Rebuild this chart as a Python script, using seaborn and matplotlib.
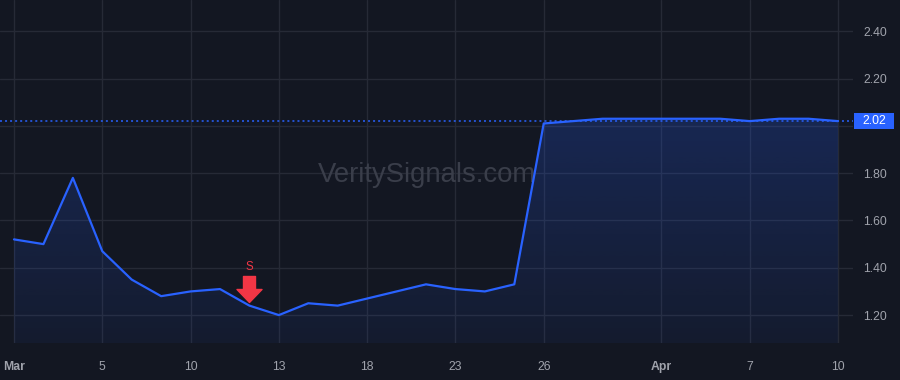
import numpy as np
import pandas as pd
import matplotlib
matplotlib.use("Agg")
import matplotlib.pyplot as plt
import seaborn as sns
from matplotlib.path import Path
from matplotlib.patches import PathPatch, Rectangle
from matplotlib import transforms

# ---- data ----
day_index = list(range(29))
prices = [1.52, 1.50, 1.78, 1.47, 1.35, 1.28, 1.30, 1.31, 1.24, 1.20,
          1.25, 1.24, 1.27, 1.30, 1.33, 1.31, 1.30, 1.33, 2.01, 2.02,
          2.03, 2.03, 2.03, 2.03, 2.03, 2.02, 2.03, 2.03, 2.02]
tick_positions = [0, 3, 6, 9, 12, 15, 18, 22, 25, 28]
tick_labels = ["Mar", "5", "10", "13", "18", "23", "26", "Apr", "7", "10"]
month_labels = ["Mar", "Apr"]
y_ticks = [1.20, 1.40, 1.60, 1.80, 2.00, 2.20, 2.40]
last_price = 2.02
signal_index = 8
signal_label = "S"
watermark = "VeritySignals.com"

# ---- style ----
BG = "#131722"
GRID = "#262a36"
TEXT = "#a0a3ac"
BLUE = "#2962ff"
RED = "#f23645"

sns.set_theme(style="dark", rc={"axes.facecolor": BG, "figure.facecolor": BG})
plt.rcParams["font.family"] = ["Liberation Sans", "DejaVu Sans"]

fig = plt.figure(figsize=(9, 3.8), dpi=100)
ax = fig.add_axes([0, 1 - 343 / 380, 853 / 900, 343 / 380])
ax.set_facecolor(BG)

df = pd.DataFrame({"day": day_index, "price": prices})
ylo, yhi = 1.082, 2.532
xlo, xhi = -0.476, 28.51

sns.lineplot(data=df, x="day", y="price", ax=ax, color=BLUE, linewidth=1.6, zorder=4)

# gradient area fill
poly = ax.fill_between(df["day"], df["price"], ylo, facecolor="none", edgecolor="none")
path = poly.get_paths()[0]
patch = PathPatch(path, transform=ax.transData, facecolor="none", edgecolor="none")
ax.add_patch(patch)
rgb = matplotlib.colors.to_rgb(BLUE)
grad = np.zeros((256, 1, 4))
grad[..., 0], grad[..., 1], grad[..., 2] = rgb
grad[..., 3] = np.linspace(0.06, 0.22, 256)[:, None]
im = ax.imshow(grad, extent=[xlo, xhi, ylo, max(prices)], origin="lower",
               aspect="auto", zorder=2, interpolation="bilinear")
im.set_clip_path(patch)

ax.set_xlim(xlo, xhi)
ax.set_ylim(ylo, yhi)

# grid
ax.set_xticks(tick_positions)
ax.set_xticklabels(tick_labels)
ax.set_yticks(y_ticks)
ax.set_yticklabels(["" if abs(v - 2.0) < 1e-9 else f"{v:.2f}" for v in y_ticks])
ax.grid(True, color=GRID, linewidth=1.0)
ax.set_axisbelow(True)
for s in ax.spines.values():
    s.set_visible(False)
ax.yaxis.tick_right()
ax.tick_params(axis="y", length=0, pad=7.5, labelsize=8.8, labelcolor=TEXT)
ax.tick_params(axis="x", length=0, pad=13, labelsize=8.8, labelcolor=TEXT)
for lab in ax.get_xticklabels():
    if lab.get_text() in month_labels:
        lab.set_fontweight("bold")
ax.set_xlabel("")
ax.set_ylabel("")

# watermark
ax.text(0.5, 1 - 182 / 343, watermark, transform=ax.transAxes, ha="center", va="baseline",
        fontsize=19.8, color="#3a3e4a", zorder=3)

# last price line + label
ax.axhline(last_price, color=BLUE, linestyle=(0, (1.3, 2.0)), linewidth=1.1, zorder=3)
blend = transforms.blended_transform_factory(ax.transAxes, ax.transData)
ax.add_patch(Rectangle((1.001, last_price - 0.035), 40 / 853, 0.07, transform=blend,
                       facecolor=BLUE, edgecolor="none", clip_on=False, zorder=5))
ax.text(1.001 + 20 / 853, last_price, f"{last_price:.2f}", transform=blend,
        ha="center", va="center", color="white", fontsize=8.8, zorder=6, clip_on=False)

# sell signal arrow
verts = [(-6, 13), (6, 13), (6, 0), (12.5, 0), (0, -13), (-12.5, 0), (-6, 0), (-6, 13)]
codes = [Path.MOVETO] + [Path.LINETO] * 6 + [Path.CLOSEPOLY]
arrow = Path(verts, codes)
off = transforms.ScaledTranslation(0, 16.5 / 100, fig.dpi_scale_trans)
ax.plot([signal_index], [prices[signal_index]], marker=arrow, markersize=18.72,
        color=RED, linestyle="none", transform=ax.transData + off, zorder=6)
ax.annotate(signal_label, (signal_index, prices[signal_index]), xytext=(0, 28),
            textcoords="offset points", ha="center", va="center",
            color=RED, fontsize=8.3, zorder=6)

fig.savefig("out.png", dpi=100, facecolor=BG)
